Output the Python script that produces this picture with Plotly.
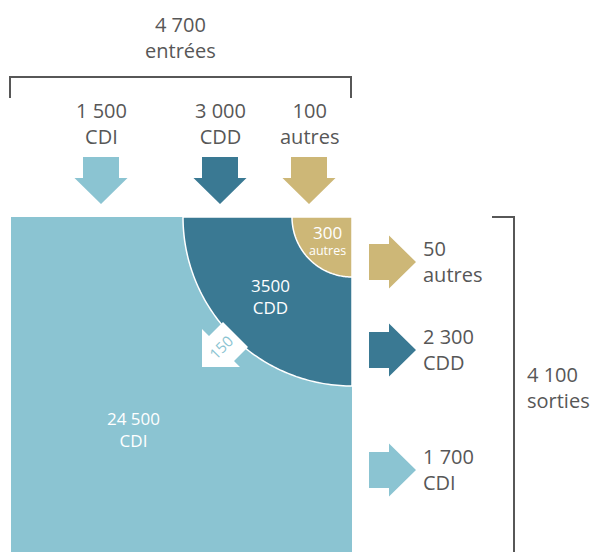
import numpy as np
import plotly.graph_objects as go

# --- values -------------------------------------------------------------
categories = ["CDI", "CDD", "autres"]
entries = [1500, 3000, 100]          # entrées par type de contrat
stock = [24500, 3500, 300]           # effectifs présents
stock_labels = ["24 500", "3500", "300"]
exits = [1700, 2300, 50]             # sorties par type de contrat
transfer_cdd_to_cdi = 150
total_entries = 4700
total_exits = 4100

colors = {"CDI": "#8BC4D2", "CDD": "#3A7993", "autres": "#CDB777"}
GREY = "#575757"
FONT = "Open Sans"


def fmt(v):
    return f"{v:,}".replace(",", " ")


def poly_path(pts):
    return "M " + " L ".join(f"{x:.2f},{y:.2f}" for x, y in pts) + " Z"


def quarter_disc(cx, cy, r, n=90):
    # quarter disc hanging from the top-right corner (cx, cy), y grows downward
    t = np.linspace(np.pi / 2, np.pi, n)
    pts = [(cx, cy)] + [(cx + r * np.cos(a), cy + r * np.sin(a)) for a in t]
    return poly_path(pts)


def down_arrow(cx, top, head_y, tip, shaft_hw, head_hw):
    return poly_path([(cx - shaft_hw, top), (cx + shaft_hw, top), (cx + shaft_hw, head_y),
                      (cx + head_hw, head_y), (cx, tip), (cx - head_hw, head_y),
                      (cx - shaft_hw, head_y)])


def right_arrow(cy, left, head_x, tip, shaft_hh, head_hh):
    return poly_path([(left, cy - shaft_hh), (head_x, cy - shaft_hh), (head_x, cy - head_hh),
                      (tip, cy), (head_x, cy + head_hh), (head_x, cy + shaft_hh),
                      (left, cy + shaft_hh)])


fig = go.Figure()
shapes = []
ann = []


def text(x, y, s, size, color=GREY, xanchor="center", angle=0, weight=500):
    align = "left" if xanchor == "left" else "center"
    ann.append(dict(x=x, y=y, text=s, showarrow=False, xanchor=xanchor, yanchor="middle",
                    align=align, textangle=angle, borderpad=0,
                    font=dict(family=FONT, size=size, color=color, weight=weight)))


# --- stock block --------------------------------------------------------
X0, X1, Y0, Y1 = 11, 352, 217, 560
shapes.append(dict(type="rect", x0=X0, x1=X1, y0=Y0, y1=Y1, line=dict(width=0),
                   fillcolor=colors["CDI"], layer="below"))
shapes.append(dict(type="path", path=quarter_disc(X1, Y0, 169), fillcolor=colors["CDD"],
                   line=dict(color="white", width=1.5)))
shapes.append(dict(type="path", path=quarter_disc(X1, Y0, 60), fillcolor=colors["autres"],
                   line=dict(color="white", width=1.5)))

text(133, 429, f"{stock_labels[0]}<br>{categories[0]}", 17, "white")
text(270, 296, f"{stock_labels[1]}<br>{categories[1]}", 17, "white")
text(327, 240, f"<span style='font-size:17px'>{stock_labels[2]}</span><br>{categories[2]}",
     12.5, "white")

# internal CDD -> CDI move
shapes.append(dict(type="path", fillcolor="white", line=dict(width=0),
                   path=poly_path([(202, 367), (202, 329), (209, 336), (223, 322),
                                   (248, 347), (234, 361), (240, 367)])))
text(221, 347, fmt(transfer_cdd_to_cdi), 15, colors["CDI"], angle=-45)

# --- entries ------------------------------------------------------------
shapes.append(dict(type="path", path="M 10,98 L 10,77 L 351,77 L 351,98",
                   line=dict(color=GREY, width=2)))
text(180, 37.5, f"{fmt(total_entries)}<br>entrées", 20)

entry_x = [101, 220, 309]
for cx, cat, v in zip(entry_x, categories, entries):
    text(cx, 123, f"{fmt(v)}<br>{cat}", 20)
    shapes.append(dict(type="path", path=down_arrow(cx, 157, 178, 204, 18, 26.5),
                       fillcolor=colors[cat], line=dict(width=0)))

# --- exits --------------------------------------------------------------
exit_y = {"autres": 262, "CDD": 350, "CDI": 470}
for cat, v in zip(categories, exits):
    cy = exit_y[cat]
    shapes.append(dict(type="path", path=right_arrow(cy, 369, 389, 416, 18, 26.5),
                       fillcolor=colors[cat], line=dict(width=0)))
    text(422, cy - 1, f"{fmt(v)}<br>{cat}", 20, xanchor="left")

shapes.append(dict(type="path", path="M 492,217 L 514,217 L 514,560",
                   line=dict(color=GREY, width=2)))
text(526, 387, f"{fmt(total_exits)}<br>sorties", 20, xanchor="left")

fig.update_layout(
    width=605, height=552, margin=dict(l=0, r=0, t=0, b=0),
    paper_bgcolor="white", plot_bgcolor="white", showlegend=False,
    xaxis=dict(range=[0, 605], visible=False, fixedrange=True),
    yaxis=dict(range=[552, 0], visible=False, fixedrange=True),
    shapes=shapes, annotations=ann,
)
fig.write_html("out.html")
